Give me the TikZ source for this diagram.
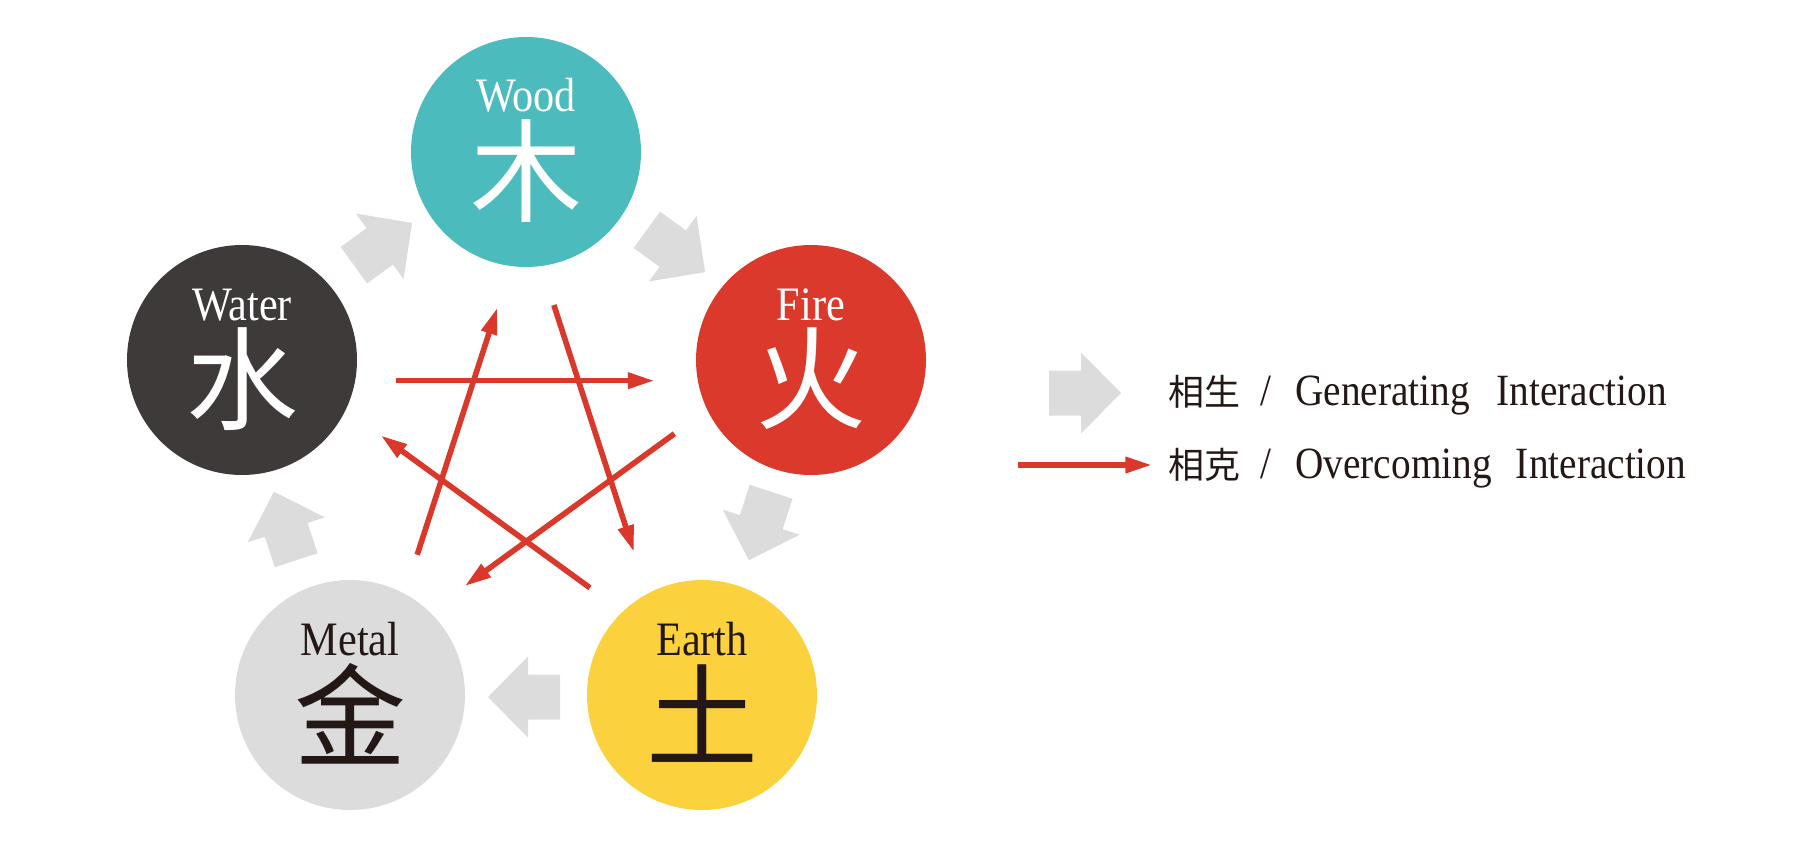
\documentclass[tikz,border=0pt]{standalone}
\usepackage{fontspec}
\setmainfont[FakeStretch=0.88]{Liberation Serif}
\newfontfamily\cjkfont{Noto Sans CJK TC}
\newcommand\legcjk{\fontsize{27}{30}\selectfont\cjkfont}
\usetikzlibrary{arrows.meta,calc}

\definecolor{woodteal}{HTML}{4BBBBE}
\definecolor{firered}{HTML}{DB392C}
\definecolor{earthyellow}{HTML}{FBD13E}
\definecolor{metalgray}{HTML}{DCDCDC}
\definecolor{waterdark}{HTML}{3E3A39}
\definecolor{arrowgray}{HTML}{DCDCDC}
\definecolor{linered}{HTML}{D9382B}
\definecolor{inkblack}{HTML}{231815}

\tikzset{every picture/.style={line width=0.75pt}}
\tikzset{
  element/.style={circle, minimum size=172.5pt, inner sep=0pt},
  elname/.style={anchor=base, inner sep=0pt, font=\fontsize{36}{40}\selectfont},
  hanzi/.style={inner sep=0pt, font=\fontsize{84}{86}\selectfont\cjkfont},
  overcome/.style={draw=linered, line width=4.2pt, -{Triangle[length=20pt,width=11.5pt]}},
  legendtext/.style={anchor=base west, inner sep=0pt, text=inkblack, font=\fontsize{33.5}{36}\selectfont},
  genarrow/.pic={\fill[arrowgray] (-36,-22.5) -- (-4,-22.5) -- (-4,-40.5) -- (36,0) -- (-4,40.5) -- (-4,22.5) -- (-36,22.5) -- cycle;}
}

\begin{document}
\begin{tikzpicture}[x=0.75pt,y=0.75pt,yscale=-1,xscale=1]
        \useasboundingbox (0,0) rectangle (1817,842);

        %Circles [five elements]
        \node[element, fill=woodteal]    (wood)  at (526,152) {};
        \node[element, fill=firered]     (fire)  at (811,360) {};
        \node[element, fill=earthyellow] (earth) at (702,695) {};
        \node[element, fill=metalgray]   (metal) at (350,695) {};
        \node[element, fill=waterdark]   (water) at (242,360) {};

        % Text Node
        \node[elname, text=white]    (woodname)  at ($(wood)+(0,-40)$)  {Wood};
        \node[hanzi, text=white]     (woodchar)  at ($(wood)+(0,19)$)   {木};
        % Text Node
        \node[elname, text=white]    (firename)  at ($(fire)+(0,-40)$)  {Fire};
        \node[hanzi, text=white]     (firechar)  at ($(fire)+(0,19)$)   {火};
        % Text Node
        \node[elname, text=inkblack] (earthname) at ($(earth)+(0,-40)$) {Earth};
        \node[hanzi, text=inkblack]  (earthchar) at ($(earth)+(0,19)$)  {土};
        % Text Node
        \node[elname, text=inkblack] (metalname) at ($(metal)+(0,-40)$) {Metal};
        \node[hanzi, text=inkblack]  (metalchar) at ($(metal)+(0,19)$)  {金};
        % Text Node
        \node[elname, text=white]    (watername) at ($(water)+(0,-40)$) {Water};
        \node[hanzi, text=white]     (waterchar) at ($(water)+(0,19)$)  {水};

        %Block arrows [generating]
        \pic[rotate=36]   at (383,244) {genarrow};
        \pic[rotate=-36]  at (676,251) {genarrow};
        \pic[rotate=-108] at (760,526) {genarrow};
        \pic[rotate=180]  at (524,697) {genarrow};
        \pic[rotate=108]  at (285,526) {genarrow};

        %Straight Lines [overcoming]
        \foreach \from/\to in {water/fire, metal/wood, wood/earth, fire/metal, earth/water}
            \draw[overcome] ($(\from)!0.27!(\to)!15.5pt!90:(\to)$) -- ($(\from)!0.725!(\to)!15.5pt!90:(\to)$);

        %Legend
        \pic at (1085,393) {genarrow};
        \coordinate (redtail) at (1018,465);
        \coordinate (redtip)  at (1152,465);
        \draw[overcome] (redtail) -- (redtip);
        % Text Node
        \node[legendtext] (genlabel) at (1168,405) {{\legcjk 相生}\hspace{15pt}/\hspace{18pt}Generating\hspace{20pt}Interaction};
        % Text Node
        \node[legendtext] (overlabel) at (1168,478) {{\legcjk 相克}\hspace{15pt}/\hspace{18pt}Overcoming\hspace{18pt}Interaction};

\end{tikzpicture}
\end{document}
